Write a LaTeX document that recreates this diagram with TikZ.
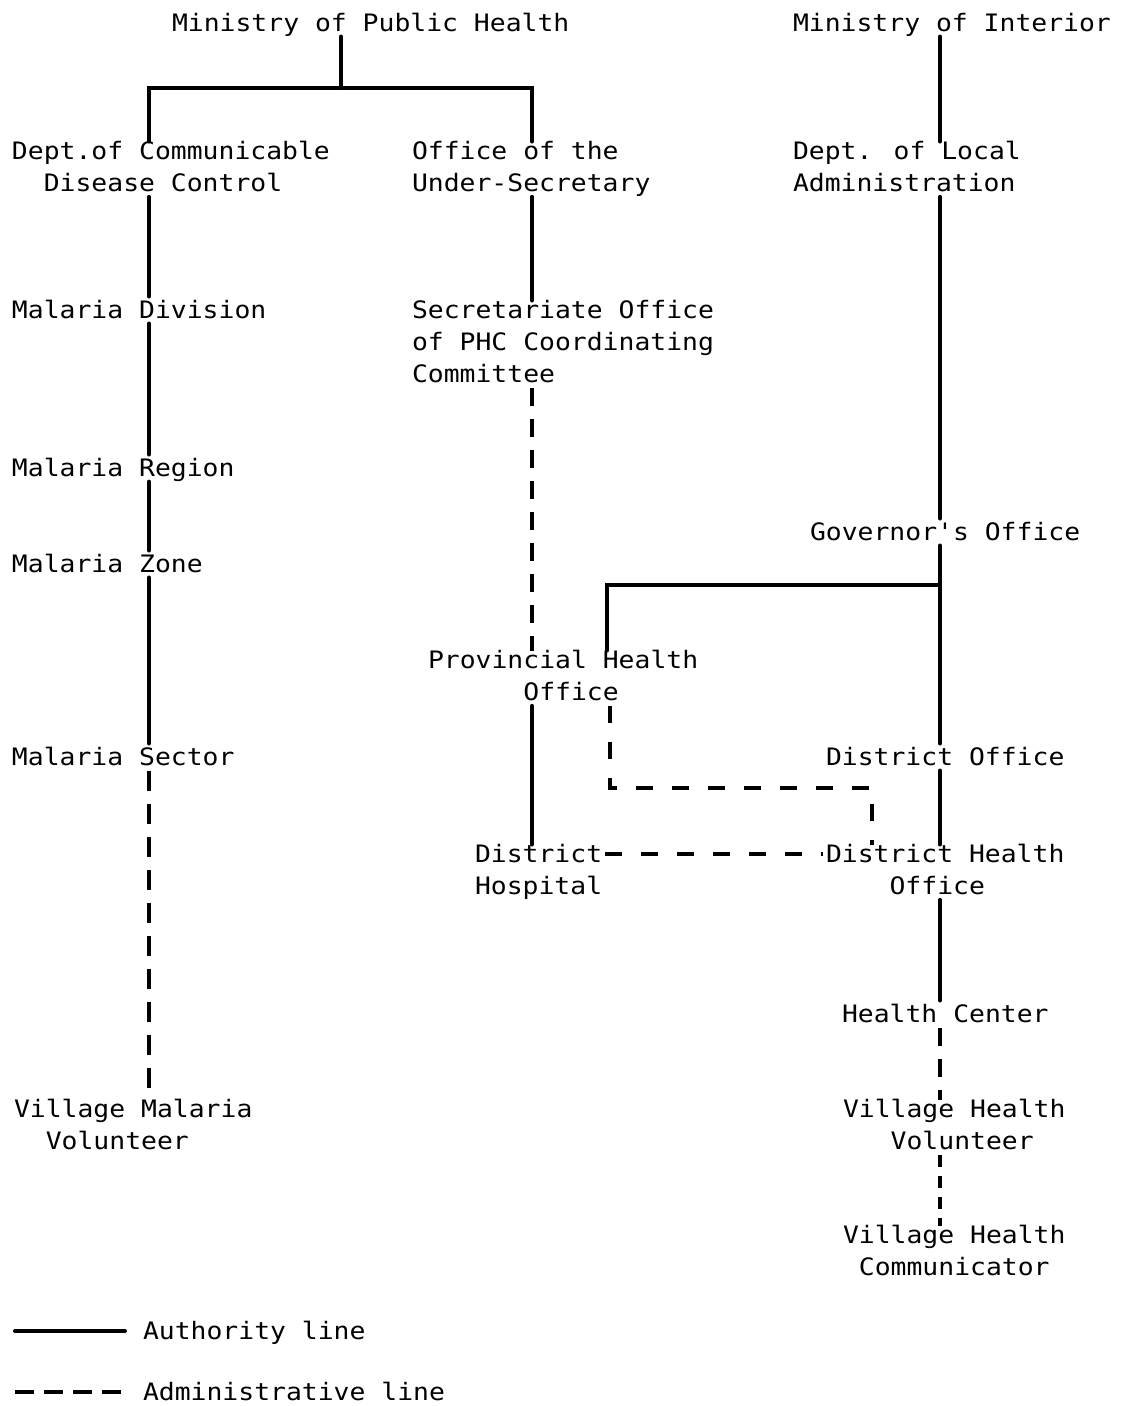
\documentclass[tikz,border=0pt]{standalone}
\usepackage{fontspec}
\newfontfamily\plotfont[FakeStretch=1.1]{DejaVu Sans Mono}
\newcommand\mystrutA{\rule[0pt]{0pt}{22pt}}
\newcommand\mystrutB{\rule[-5pt]{0pt}{5pt}}
\newcommand\ind[1]{\phantom{#1}}
\tikzset{
  lbl/.style={anchor=north west, inner sep=0pt, outer sep=0pt, align=left,
    font=\plotfont\fontsize{24}{32}\selectfont,
    execute at begin node=\mystrutA, execute at end node=\mystrutB},
  auth/.style={line width=4pt, line cap=round},
  admin/.style={line width=4pt, dash pattern=on 18pt off 13pt},
  adminv/.style={line width=4pt, dash pattern=on 20pt off 13pt},
  adminh/.style={line width=4pt, dash pattern=on 17pt off 19pt},
  adminshort/.style={line width=4pt, dash pattern=on 12pt off 9pt},
  adminleg/.style={line width=4pt, dash pattern=on 19pt off 10pt},
}
\begin{document}
\begin{tikzpicture}[x=1pt,y=-1pt]
\useasboundingbox (0,0) rectangle (1122,1406);
% column x positions
\coordinate (xL) at (149,0);
\coordinate (xM) at (532,0);
\coordinate (xR) at (940,0);
\coordinate (xT) at (341,0);
\coordinate (xPH) at (607,0);
% nodes
\node[lbl] (mph) at (172,9.5) {Ministry of Public Health};
\node[lbl] (moi) at (793,9.5) {Ministry of Interior};
\node[lbl] (dcd) at (12,141.5) {Dept.of Communicable\\\ind{Di}Disease Control};
\node[lbl] (ous) at (412,141.5) {Office of the\\Under-Secretary};
\node[lbl] (dla) at (793,141.5) {Dept. of Local\\Administration};
\node[lbl] (mdiv) at (12,296.5) {Malaria Division};
\node[lbl] (sec) at (412,300.5) {Secretariate Office\\of PHC Coordinating\\Committee};
\node[lbl] (mreg) at (12,454.5) {Malaria Region};
\node[lbl] (gov) at (810,518.5) {Governor's Office};
\node[lbl] (mzone) at (12,550.5) {Malaria Zone};
\node[lbl] (pho) at (428,650.5) {Provincial Health\\\ind{Provin}Office};
\node[lbl] (msec) at (12,743.5) {Malaria Sector};
\node[lbl] (dof) at (826,743.5) {District Office};
\node[lbl] (dhosp) at (475,844.5) {District\\Hospital};
\node[lbl] (dho) at (826,844.5) {District Health\\\ind{Dist}Office};
\node[lbl] (hc) at (842,1000.5) {Health Center};
\node[lbl] (vmv) at (14,1099.5) {Village Malaria\\\ind{Vi}Volunteer};
\node[lbl] (vhv) at (843,1099.5) {Village Health\\\ind{Vil}Volunteer};
\node[lbl] (vhc) at (843,1225.5) {Village Health\\\ind{V}Communicator};
\node[lbl] (leg1) at (143,1317.5) {Authority line};
\node[lbl] (leg2) at (143,1378.5) {Administrative line};
% helper coordinates
\coordinate (topbar) at (341,88);
\coordinate (gj) at (940,585);
\coordinate (cornerA) at (610,788);
\coordinate (cornerB) at (872,788);
\coordinate (yDH) at (0,854);
\coordinate (l1a) at (15,1331);
\coordinate (l2a) at (15,1392);
% Ministry of Public Health branch
\draw[auth] (mph.south -| xT) -- (topbar);
\draw[auth] (dcd.north -| xL) |- (topbar) -| (ous.north -| xM);
% left column
\draw[auth] (dcd.south -| xL) -- (mdiv.north -| xL);
\draw[auth] (mdiv.south -| xL) -- (mreg.north -| xL);
\draw[auth] (mreg.south -| xL) -- (mzone.north -| xL);
\draw[auth] (mzone.south -| xL) -- (msec.north -| xL);
\draw[adminv] (msec.south -| xL) -- (vmv.north -| xL);
% middle column
\draw[auth] (ous.south -| xM) -- (sec.north -| xM);
\draw[admin] (sec.south -| xM) -- (pho.north -| xM);
\draw[auth] (pho.south -| xM) -- (dhosp.north -| xM);
% right column
\draw[auth] (moi.south -| xR) -- (dla.north -| xR);
\draw[auth] (dla.south -| xR) -- (gov.north -| xR);
\draw[auth] (gov.south -| xR) -- (dof.north -| xR);
\draw[auth] (gj) -| (pho.north -| xPH);
\draw[auth] (dof.south -| xR) -- (dho.north -| xR);
\draw[auth] (dho.south -| xR) -- (hc.north -| xR);
\draw[admin] (hc.south -| xR) -- (vhv.north -| xR);
\draw[adminshort] (vhv.south -| xR) -- (vhc.north -| xR);
% administrative cross links
\draw[adminh] (pho.south -| cornerA) -- (cornerA) -- (cornerB) -- (dho.north -| cornerB);
\draw[adminh, shorten <=3pt, shorten >=3pt] (dhosp.east |- yDH) -- (dho.west |- yDH);
% legend
\draw[auth] (l1a) -- ([xshift=-18pt]leg1.west |- l1a);
\draw[adminleg] (l2a) -- ([xshift=-18pt]leg2.west |- l2a);
\end{tikzpicture}
\end{document}
